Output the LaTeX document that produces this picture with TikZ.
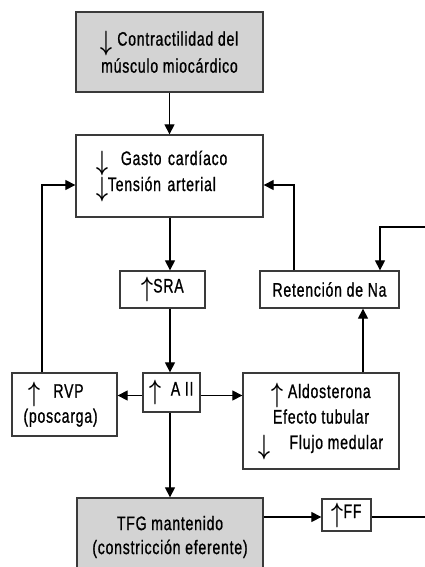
\documentclass[tikz,border=0pt]{standalone}
\usepackage{amsmath}
\usepackage{fontspec}
\usepackage{graphicx}
\setmainfont{Liberation Sans}[FakeStretch=0.72,LetterSpace=4,FakeBold=0.9]
\usetikzlibrary{arrows.meta,calc}
\newcommand\myup{\raisebox{-4pt}{\scalebox{1}[1.35]{$\boldsymbol{\uparrow}$}}}
\newcommand\mydown{\raisebox{-5pt}{\scalebox{1}[1.35]{$\boldsymbol{\downarrow}$}}}
\definecolor{boxgrey}{HTML}{D3D3D3}
\definecolor{edgegrey}{HTML}{3A3A3A}
\begin{document}
\begin{tikzpicture}[x=1pt,y=-1pt,
  box/.style={draw=edgegrey,line width=1.3pt,rectangle,inner sep=0pt,
    font=\fontsize{19.5}{27}\selectfont},
  greybox/.style={box,fill=boxgrey},
  arr/.style={line width=1.2pt,-{Triangle[length=10pt,width=10pt]}},
  ln/.style={line width=1.2pt}]
\useasboundingbox (0,0) rectangle (425,567);
\begin{scope}
\clip (0,0) rectangle (425,567);
\node[greybox,minimum width=187pt,minimum height=80pt,align=center] (top) at (169.5,52)
  {\mydown\ Contractilidad del\\músculo miocárdico};
\node[box,minimum width=187pt,minimum height=82pt,text width=147pt,align=left,
  font=\fontsize{19.5}{26}\selectfont] (gasto) at (169.5,176)
  {\mydown\ \ Gasto cardíaco\\\mydown Tensión arterial};
\node[box,minimum width=85pt,minimum height=37pt] (sra) at (162.5,289.5) {\myup SRA};
\node[box,minimum width=139pt,minimum height=37pt] (ret) at (329.5,289.5) {Retención de Na};
\node[box,minimum width=57pt,minimum height=39pt] (aii) at (171.5,392.5) {\myup\ \ A II};
\node[box,minimum width=105pt,minimum height=63pt,text width=82pt,align=left,
  font=\fontsize{19.5}{25}\selectfont] (rvp) at (64.5,404.5)
  {\hspace*{5pt}\myup\ \ RVP\\(poscarga)};
\node[box,minimum width=156pt,minimum height=96pt,align=center,
  font=\fontsize{19.5}{25.5}\selectfont] (ald) at (321,421)
  {\myup\ Aldosterona\\Efecto tubular\\\mydown\ \ \ \ Flujo medular};
\node[greybox,minimum width=186pt,minimum height=78pt,align=center,
  font=\fontsize{19.5}{24}\selectfont] (tfg) at (170,537)
  {TFG mantenido\\(constricción eferente)};
\node[box,minimum width=49pt,minimum height=32pt] (ff) at (346.5,515) {\myup FF};
\end{scope}
\coordinate (lx) at (42,0);
\coordinate (rx) at (294,0);
\coordinate (rin) at (425,227);
\coordinate (rturn) at (380,0);
\coordinate (mx) at (170,0);
\coordinate (ax) at (363,0);
\coordinate (rout) at (425,517);
\draw[arr] (top.south) -- (gasto.north);
\draw[arr] (rvp.north -| lx) |- ($(gasto.west)+(0,9)$);
\draw[arr] (ret.north -| rx) |- ($(gasto.east)+(0,9)$);
\draw[arr] (rin) -| (ret.north -| rturn);
\draw[arr] (gasto.south -| mx) -- (sra.north -| mx);
\draw[arr] (sra.south -| mx) -- (aii.north -| mx);
\draw[arr] (ald.north -| ax) -- (ret.south -| ax);
\draw[arr] ($(aii.west)+(0,3)$) -- ($(aii.west -| rvp.east)+(0,3)$);
\draw[arr] ($(aii.east)+(0,3)$) -- ($(aii.east -| ald.west)+(0,3)$);
\draw[arr] (aii.south -| mx) -- (tfg.north -| mx);
\draw[arr] ($(tfg.east |- ff.west)+(0,2)$) -- ($(ff.west)+(0,2)$);
\draw[ln] ($(ff.east)+(0,2)$) -- (rout);
\end{tikzpicture}
\end{document}
